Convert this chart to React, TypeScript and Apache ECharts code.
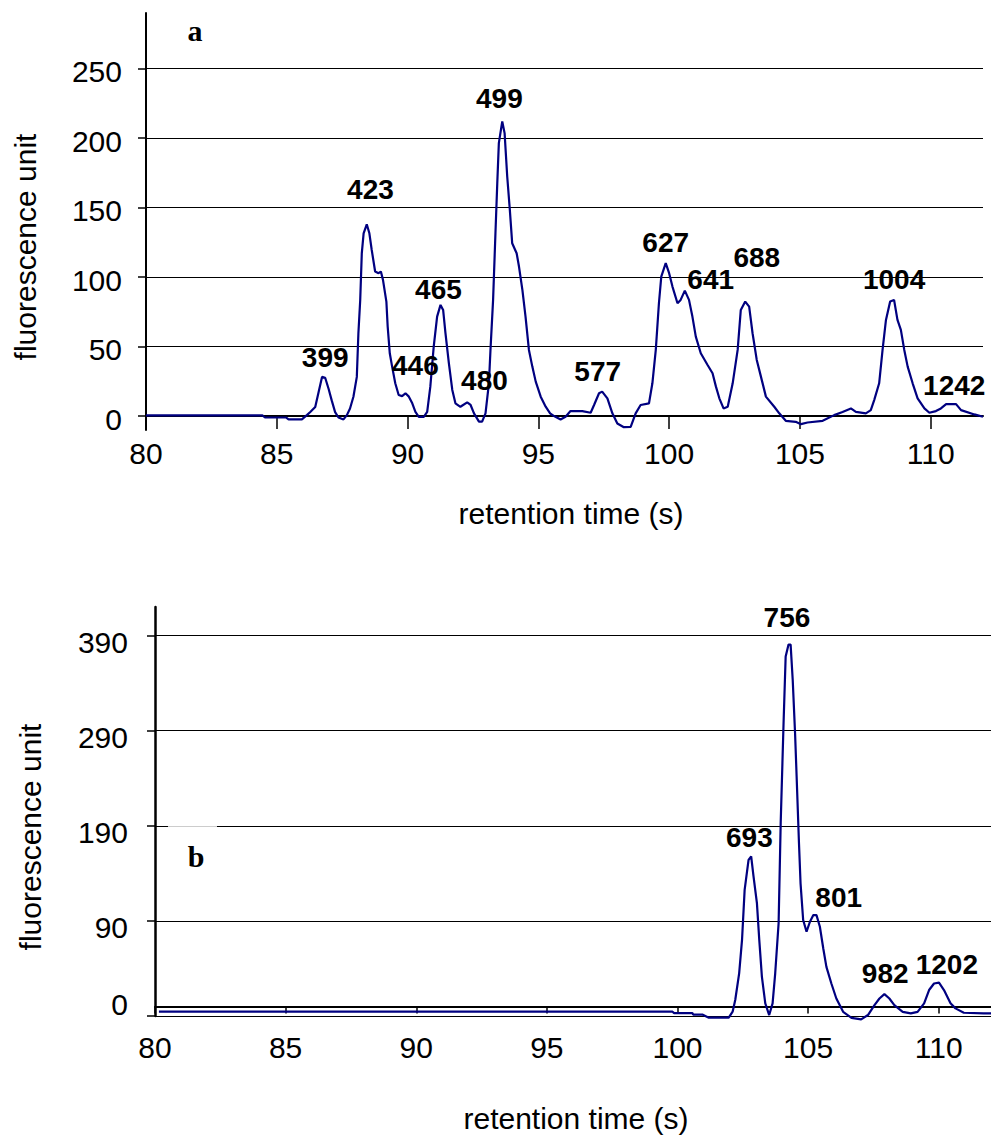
import React, { useEffect, useRef } from "react";
import * as echarts from "echarts";

// ---------- data ----------
const xTicks = [80, 85, 90, 95, 100, 105, 110];
const topYTicks = [0, 50, 100, 150, 200, 250];
const botYTicks = [-10, 90, 190, 290, 390];
const botYLabels = [0, 90, 190, 290, 390];

// panel a: retention time (s), fluorescence unit
const topTrace: [number, number][] = [
  [80, 0.5], [84.45, 0.5], [84.55, -1], [85.35, -1], [85.45, -2.4], [85.96, -2.4], [86.15, 0.7], [86.28, 3],
  [86.47, 6.6], [86.6, 17.4], [86.73, 28.2], [86.85, 27.6], [86.98, 19.7], [87.1, 11.3], [87.23, 2.9], [87.36, -1],
  [87.55, -2.4], [87.68, 0.7], [87.8, 5.5], [87.93, 13.9], [88.06, 28.2], [88.12, 59.4], [88.19, 83.5], [88.25, 117],
  [88.32, 131.5], [88.44, 138], [88.54, 131.5], [88.63, 119.5], [88.76, 104], [88.89, 102.8], [88.98, 104], [89.06, 98],
  [89.19, 82.4], [89.24, 64.4], [89.32, 45.2], [89.41, 35.6], [89.53, 23.6], [89.66, 15.2], [89.79, 14.4], [89.92, 16.4],
  [90.05, 14], [90.18, 9.2], [90.3, 3], [90.43, -0.5], [90.62, -0.5], [90.75, 3], [90.87, 21.2], [91, 50],
  [91.13, 71.6], [91.26, 80], [91.36, 76.4], [91.45, 59.5], [91.58, 38], [91.71, 18.8], [91.83, 9.2], [92.02, 6.7],
  [92.28, 9.9], [92.41, 8], [92.54, 2], [92.73, -4], [92.85, -4], [92.98, 2], [93.11, 23.6], [93.17, 47.6],
  [93.27, 83.6], [93.36, 131.6], [93.43, 167.6], [93.49, 196.4], [93.62, 212], [93.71, 203.6], [93.81, 172.4], [93.91, 148.4],
  [94, 124.4], [94.17, 117.2], [94.26, 107.6], [94.39, 90.8], [94.51, 71.6], [94.64, 47.6], [94.77, 35.6], [94.9, 24.8],
  [95.09, 14], [95.28, 6.8], [95.45, 2], [95.6, 0], [95.85, -2.4], [96.04, -0.5], [96.23, 3.6], [96.68, 3.6],
  [97, 2.4], [97.13, 8], [97.32, 16.4], [97.44, 17.6], [97.64, 12.8], [97.83, 2], [98.02, -5.3], [98.27, -8],
  [98.53, -7.7], [98.72, 2], [98.91, 8], [99.23, 9.2], [99.36, 23.6], [99.49, 47.6], [99.61, 81.2], [99.7, 100.4],
  [99.87, 110], [100, 102.8], [100.13, 93], [100.32, 81.2], [100.44, 83.6], [100.6, 90.3], [100.76, 83.6], [100.89, 71.6],
  [101.02, 57.2], [101.21, 45.2], [101.47, 36.8], [101.66, 30.8], [101.79, 21.2], [101.92, 12.8], [102.08, 5.5], [102.24, 6.7],
  [102.43, 23.6], [102.62, 47.6], [102.74, 76.4], [102.91, 82.4], [103.06, 78.8], [103.19, 59.6], [103.35, 40.4], [103.51, 28.4],
  [103.7, 14], [104.02, 6.7], [104.21, 2], [104.46, -3.4], [104.84, -4.1], [105.04, -5.8], [105.29, -4.6], [105.87, -3.4],
  [106.31, 0.7], [106.63, 3], [106.95, 5.5], [107.14, 3], [107.52, 2], [107.71, 4.3], [107.84, 11.5], [108.03, 23.6],
  [108.16, 47.6], [108.29, 69.2], [108.45, 82.4], [108.6, 83.6], [108.73, 69.2], [108.86, 62], [108.99, 47.6], [109.12, 35.6],
  [109.31, 23.6], [109.5, 12.8], [109.76, 5.5], [109.95, 2.4], [110.2, 3.6], [110.39, 5.5], [110.59, 8.6], [110.97, 8.6],
  [111.16, 4.3], [111.67, 1.2], [112, -0.5],
];

// panel b
const botTrace: [number, number][] = [
  [80.15, -5.5], [99.81, -5.5], [99.87, -7], [100.57, -7], [100.6, -8.5], [100.95, -8.5], [101.2, -11.8], [101.96, -11.8],
  [102.11, -5.5], [102.21, 6.8], [102.36, 34.9], [102.47, 70], [102.57, 122.6], [102.62, 133.2], [102.72, 154.2], [102.82, 157.7],
  [102.91, 136.7], [103.04, 108.6], [103.13, 70], [103.23, 31.4], [103.36, 3.3], [103.51, -9], [103.64, 3.3], [103.74, 34.9],
  [103.87, 87.5], [103.95, 192.8], [104.06, 298], [104.14, 368], [104.25, 380.5], [104.33, 380.5], [104.41, 343.5], [104.5, 287.4],
  [104.56, 241.8], [104.65, 171.6], [104.71, 129.5], [104.81, 90.9], [104.94, 78.6], [105.07, 89.1], [105.2, 96.1], [105.32, 96.1],
  [105.45, 83.8], [105.58, 61], [105.7, 41.7], [105.89, 24.2], [106.08, 8.4], [106.34, -5.6], [106.66, -11.9], [107.03, -13.6],
  [107.29, -9], [107.54, 1.5], [107.73, 8.4], [107.92, 13], [108.11, 8.4], [108.3, 1.5], [108.62, -5.6], [108.93, -7.3],
  [109.19, -5.6], [109.44, 3.3], [109.63, 17.3], [109.82, 24.2], [110.01, 25], [110.2, 17.3], [110.45, 3.3], [110.64, -2],
  [110.96, -6.6], [111.72, -7.3], [112, -7.3],
];

// peak annotations: [time, value, label]
const topPeaks: [number, number, string][] = [
  [86.85, 42.5, "399"], [88.58, 162.8, "423"], [90.3, 36.7, "446"], [91.18, 90.8, "465"],
  [92.94, 25.9, "480"], [93.51, 228.4, "499"], [97.27, 32.4, "577"], [99.87, 124.6, "627"],
  [101.59, 98, "641"], [103.35, 113.8, "688"], [108.6, 98, "1004"], [110.9, 22.3, "1242"],
];
const botPeaks: [number, number, string][] = [
  [104.19, 409, "756"], [102.75, 177.4, "693"], [106.17, 114.2, "801"], [107.95, 34.2, "982"], [110.31, 43.7, "1202"],
];

const FONT = "'Liberation Sans', Arial, sans-serif";
const LINE = "#000080";
const FS = 30;

export default function App() {
  const ref = useRef<HTMLDivElement>(null);
  useEffect(() => {
    document.body.style.margin = "0";
    if (!ref.current) return;
    const chart = echarts.init(ref.current, null, { renderer: "svg" });

    const xAxisBase = (gridIndex: number, tickLen: number, margin: number) => ({
      type: "value",
      gridIndex,
      min: 80,
      max: 112,
      axisLine: { show: true, onZero: true, lineStyle: { color: "#000", width: 2 } },
      axisTick: { show: true, inside: false, length: tickLen, customValues: xTicks, lineStyle: { color: "#000", width: 1.5 } },
      axisLabel: { customValues: xTicks, margin, color: "#000", fontSize: FS, fontFamily: FONT },
      splitLine: { show: false },
    });

    const labelRich = (pad: number) => ({
      n: { fontSize: FS, fontFamily: FONT, color: "#000", padding: [pad, 0, 0, 0] },
      z: { fontSize: FS, fontFamily: FONT, color: "#000", padding: [0, 0, 3, 0] },
    });

    const peakSeries = (idx: number, peaks: [number, number, string][]) => ({
      type: "scatter",
      xAxisIndex: idx,
      yAxisIndex: idx,
      symbolSize: 1,
      itemStyle: { color: "rgba(0,0,0,0)", opacity: 1 },
      silent: true,
      z: 5,
      data: peaks.map((p) => ({ value: [p[0], p[1]], name: p[2] })),
      label: {
        show: true,
        position: "inside",
        formatter: "{b}",
        color: "#000",
        opacity: 1,
        fontSize: 28,
        fontWeight: "bold",
        fontFamily: FONT,
      },
    });

    const txt = (text: string, x: number, y: number, font: string, extra: any = {}) => ({
      type: "text",
      x,
      y,
      ...extra,
      style: {
        text,
        font,
        fill: "#000",
        textAlign: "center",
        textVerticalAlign: "middle",
        align: "center",
        verticalAlign: "middle",
      },
    });

    chart.setOption({
      animation: false,
      backgroundColor: "#fff",
      grid: [
        { left: 146, top: 13, width: 837, height: 417, containLabel: false },
        { left: 155, top: 607, width: 842.5, height: 409, containLabel: false },
      ],
      xAxis: [xAxisBase(0, 13, 8), xAxisBase(1, 7, 16)],
      yAxis: [
        {
          type: "value",
          gridIndex: 0,
          min: -10,
          max: 290,
          axisLine: { show: true, onZero: false, lineStyle: { color: "#000", width: 2 } },
          axisTick: { show: true, length: 8, customValues: topYTicks, lineStyle: { color: "#000", width: 1.5 } },
          axisLabel: {
            customValues: topYTicks,
            margin: 24,
            formatter: (v: number) => `{n|${v}}`,
            rich: labelRich(6),
          },
          splitLine: { show: true, lineStyle: { color: "#000", width: 1.2 } },
        },
        {
          type: "value",
          gridIndex: 1,
          min: -10,
          max: 420,
          axisLine: { show: true, onZero: false, lineStyle: { color: "#000", width: 2.5 } },
          axisTick: { show: true, length: 8, customValues: botYTicks, lineStyle: { color: "#000", width: 1.5 } },
          axisLabel: {
            customValues: botYLabels,
            margin: 27,
            formatter: (v: number) => (v === 0 ? `{z|0}` : `{n|${v}}`),
            rich: labelRich(14),
          },
          splitLine: { show: true, lineStyle: { color: "#000", width: 1.2 } },
        },
      ],
      series: [
        {
          type: "line",
          xAxisIndex: 0,
          yAxisIndex: 0,
          data: topTrace,
          showSymbol: false,
          clip: false,
          lineStyle: { color: LINE, width: 2.2 },
          z: 3,
        },
        {
          type: "line",
          xAxisIndex: 1,
          yAxisIndex: 1,
          data: botTrace,
          showSymbol: false,
          clip: false,
          lineStyle: { color: LINE, width: 2.2 },
          z: 3,
        },
        peakSeries(0, topPeaks),
        peakSeries(1, botPeaks),
      ],
      graphic: [
        txt("a", 195, 30, "bold 30px 'Liberation Serif', 'Times New Roman', serif"),
        {
          type: "rect",
          shape: { x: 168, y: 824, width: 49, height: 46 },
          style: { fill: "rgba(255,255,255,0.8)" },
          z: 10,
        },
        txt("b", 196, 856, "bold 30px 'Liberation Serif', 'Times New Roman', serif", { z: 11 }),
        txt("fluorescence unit", 25, 247, `${FS}px ${FONT}`, { rotation: Math.PI / 2 }),
        txt("fluorescence unit", 30, 837, `${FS}px ${FONT}`, { rotation: Math.PI / 2 }),
        txt("retention time (s)", 571, 513, `${FS}px ${FONT}`),
        txt("retention time (s)", 576, 1118, `${FS}px ${FONT}`),
      ],
    });

    return () => chart.dispose();
  }, []);

  return <div ref={ref} style={{ width: 991, height: 1137 }} />;
}
